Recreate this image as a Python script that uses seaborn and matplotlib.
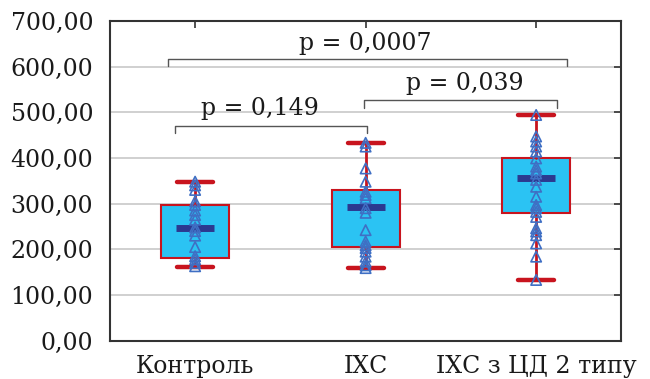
import numpy as np
import pandas as pd
import matplotlib
matplotlib.use("Agg")
import matplotlib.pyplot as plt
import seaborn as sns

# -- data --
groups = ["Контроль", "ІХС", "ІХС з ЦД 2 типу"]

control_vals = [348, 340, 330, 305, 297, 285, 275, 265, 248, 240, 230, 205, 185, 178, 170, 163]
ihd_vals = [433, 425, 377, 348, 326, 319, 312, 290, 280, 242, 217, 209, 203, 195, 184, 173, 165, 159]
ihd_dm_vals = [494, 447, 436, 425, 414, 399, 381, 373, 366, 352, 337, 315, 297, 290, 282, 271,
               246, 239, 231, 213, 184, 133]

# box = mean +/- SD, whiskers = min/max (Statistica style)
means = [246, 292, 357]
box_low = [182, 204, 279]
box_high = [298, 330, 399]
whisk_low = [162, 159, 133]
whisk_high = [348, 433, 495]

# significance brackets: (x_left, x_right, y_bar, y_drop, text, text_x, text_y)
brackets = [
    (-0.16, 2.18, 616, 601, "p = 0,0007", 1.0, 636),
    (0.99, 2.12, 527, 509, "p = 0,039", 1.58, 549),
    (-0.12, 1.01, 470, 454, "p = 0,149", 0.38, 494),
]

yticks = np.arange(0, 701, 100)
ytick_labels = [f"{v:.2f}".replace(".", ",") for v in yticks]

BOX_FILL = "#2BC3F3"
RED = "#C8141E"
NAVY = "#2B3990"
PT_BLUE = "#3F6FC4"
TXT = "#1a1a1a"
FONT = "DejaVu Serif"
FS = 17

sns.set_style("white")
plt.rcParams["font.family"] = [FONT, "DejaVu Sans"]

df = pd.DataFrame({
    "group": [groups[0]] * len(control_vals) + [groups[1]] * len(ihd_vals) + [groups[2]] * len(ihd_dm_vals),
    "value": control_vals + ihd_vals + ihd_dm_vals,
})

fig, ax = plt.subplots(figsize=(6.5, 3.79), dpi=100)
fig.subplots_adjust(left=0.169, right=0.956, top=0.945, bottom=0.101)

ax.yaxis.grid(True, color="#c8c8c8", linewidth=1.2, zorder=0)
ax.set_axisbelow(True)

# boxes drawn from the summary stats
stats = []
for i, g in enumerate(groups):
    stats.append(dict(med=means[i], q1=box_low[i], q3=box_high[i],
                      whislo=whisk_low[i], whishi=whisk_high[i], fliers=[], label=g))
ax.bxp(stats, positions=range(3), widths=0.4, patch_artist=True, showfliers=False,
       boxprops=dict(facecolor=BOX_FILL, edgecolor=RED, linewidth=1.5),
       whiskerprops=dict(color=RED, linewidth=2),
       capprops=dict(color=RED, linewidth=3.2),
       medianprops=dict(linewidth=0),
       capwidths=0.21, zorder=2)

# mean markers
ax.plot(range(3), means, linestyle="none", marker="_", markersize=27,
        markeredgewidth=5, color=NAVY, zorder=3)

# individual observations
sns.stripplot(data=df, x="group", y="value", order=groups, jitter=False,
              marker="^", size=7.5, linewidth=1.2, ax=ax, zorder=4)
for coll in ax.collections:
    coll.set_facecolor("none")
    coll.set_edgecolor(PT_BLUE)

# significance brackets
for x0, x1, yb, yd, txt, tx, ty in brackets:
    ax.plot([x0, x0, x1, x1], [yd, yb, yb, yd], color="#555555", linewidth=1, zorder=5)
    ax.text(tx, ty, txt, ha="center", va="baseline", fontsize=FS, family=FONT, color=TXT)

ax.set_xlim(-0.5, 2.5)
ax.set_ylim(0, 700)
ax.set_yticks(yticks)
ax.set_yticklabels(ytick_labels)
ax.set_xticks(range(3))
ax.set_xticklabels(groups)
ax.set_xlabel("")
ax.set_ylabel("")
ax.tick_params(axis="y", direction="in", length=5, width=1.2, color="#333333",
               labelsize=FS, labelcolor=TXT, pad=12, right=True)
ax.tick_params(axis="x", direction="in", length=5, width=1.2, color="#333333",
               labelsize=FS, labelcolor=TXT, pad=10, top=True)
for s in ax.spines.values():
    s.set_visible(True)
    s.set_color("#333333")
    s.set_linewidth(1.5)

fig.savefig("out.png", dpi=100)
